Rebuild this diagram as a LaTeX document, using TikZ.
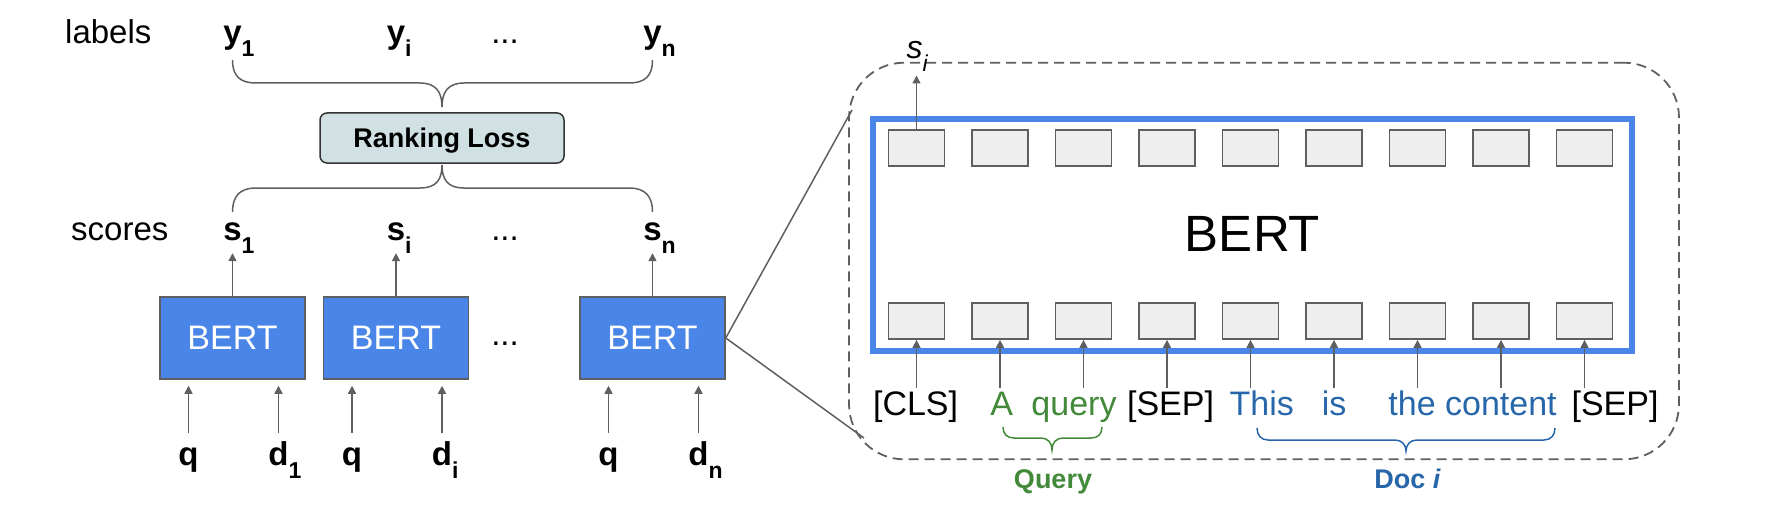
\documentclass[tikz,border=0pt]{standalone}
\usepackage{fontspec}
\setmainfont{Liberation Sans}
\usetikzlibrary{arrows.meta}
\definecolor{linegray}{HTML}{5F5F5F}
\definecolor{bertblue}{HTML}{4A86E8}
\definecolor{lossfill}{HTML}{D0E0E3}
\definecolor{tokfill}{HTML}{EEEEEE}
\definecolor{qgreen}{HTML}{43893A}
\definecolor{dblue}{HTML}{2767A9}
\newcommand\fsz[1]{\fontsize{#1}{#1}\selectfont}
\newcommand\bsb[2]{#1\rlap{\raisebox{-13pt}{\fsz{23}#2}}}
\begin{document}
\begin{tikzpicture}[x=1pt,y=-1pt,
  arr/.style={draw=linegray,line width=1.5pt,-{Triangle[length=8pt,width=8pt]}},
  brace/.style={draw=linegray,line width=1.5pt},
  bertbox/.style={draw=linegray,line width=1.5pt,fill=bertblue,minimum width=145pt,minimum height=82pt,inner sep=0pt,text=white,font=\fsz{34}},
  tokbox/.style={draw=linegray,line width=1.8pt,fill=tokfill,minimum width=56pt,minimum height=36pt,inner sep=0pt},
  lab/.style={inner sep=0pt,anchor=base,font=\fsz{33}\bfseries},
  inp/.style={inner sep=0pt,anchor=base,font=\fsz{33}\bfseries,text height=24pt},
  word/.style={inner sep=0pt,anchor=base,font=\fsz{33}},
  tok/.style={inner sep=0pt,anchor=base,font=\fsz{34},text height=27pt},
  dots/.style={inner sep=0pt,anchor=base,font=\fsz{33}},
  zoomline/.style={draw=linegray,line width=1.5pt}
]
\useasboundingbox (0,0) rectangle (1780,508);

% ---------------- left part ----------------
\node[word,anchor=base west] (labels) at (65,44) {labels};
\node[word,anchor=base west] (scores) at (71,240) {scores};

\node[lab] (y1) at (232.5,44) {\bsb{y}{1}};
\node[lab] (yi) at (396,44) {\bsb{y}{i}};
\node[dots] (ydots) at (505,44) {...};
\node[lab] (yn) at (652.5,44) {\bsb{y}{n}};

\node[draw=black!80,line width=1.5pt,fill=lossfill,rounded corners=7pt,minimum width=244pt,minimum height=50pt,inner sep=0pt,font=\fsz{27}\bfseries,text height=19.3pt,text depth=0pt] (loss) at (442,138) {Ranking Loss};

\draw[brace] (232.5,60) .. controls (232.5,76) and (240,83) .. (256,83) -- (420,83) .. controls (436,83) and (442,92) .. (442,107) .. controls (442,92) and (448,83) .. (464,83) -- (629,83) .. controls (645,83) and (652.5,76) .. (652.5,60);
\draw[brace] (232.5,212) .. controls (232.5,196) and (240,188) .. (256,188) -- (420,188) .. controls (436,188) and (442,180) .. (442,165) .. controls (442,180) and (448,188) .. (464,188) -- (629,188) .. controls (645,188) and (652.5,196) .. (652.5,212);

\node[lab] (s1) at (232.5,240) {\bsb{s}{1}};
\node[lab] (si) at (396,240) {\bsb{s}{i}};
\node[dots] (sdots) at (505,240) {...};
\node[lab] (sn) at (652.5,240) {\bsb{s}{n}};

\node[bertbox] (b1) at (232.5,338) {BERT};
\node[bertbox] (bi) at (396,338) {BERT};
\node[dots] (bdots) at (505,345) {...};
\node[bertbox] (bn) at (652.5,338) {BERT};

\draw[arr] (b1.north) -- (s1.south);
\draw[arr] (bi.north) -- (si.south);
\draw[arr] (bn.north) -- (sn.south);

\node[inp] (q1) at (188.5,465) {q};
\node[inp] (d1) at (278.5,465) {\bsb{d}{1}};
\node[inp] (q2) at (352,465) {q};
\node[inp] (d2) at (442,465) {\bsb{d}{i}};
\node[inp] (q3) at (608.5,465) {q};
\node[inp] (d3) at (698.5,465) {\bsb{d}{n}};
\foreach \i/\b in {q1/b1,d1/b1,q2/bi,d2/bi,q3/bn,d3/bn}{
  \draw[arr,shorten <=8pt,shorten >=6pt] (\i.north) -- (\i.north |- \b.south);
}

% ---------------- right part ----------------
\node[draw=linegray,line width=1.8pt,dash pattern=on 10pt off 6pt,rounded corners=55pt,minimum width=830pt,minimum height=396.6pt,inner sep=0pt] (dbox) at (1264,261) {};
\coordinate (zA) at (852,110);
\coordinate (zB) at (864,438);
\draw[zoomline] (bn.east) -- (zA);
\draw[zoomline] (bn.east) -- (zB);

\node[draw=bertblue,line width=6pt,minimum width=759pt,minimum height=231pt,inner sep=0pt] (bert) at (1252.5,235) {};
\node[inner sep=0pt,font=\fsz{51}] (berttext) at (1252.5,233.5) {BERT};

\foreach \k in {1,...,9}{
  \node[tokbox] (t\k) at ({916.5+83.5*(\k-1)},148) {};
  \node[tokbox] (u\k) at ({916.5+83.5*(\k-1)},321) {};
}

\node[inner sep=0pt,anchor=base,font=\fsz{32}\itshape] (sout) at (914.6,58.3) {\bsb{s}{i}};
\draw[arr,shorten >=4pt] (t1.north) -- (t1.north |- sout.south);

\node[tok] (cls) at (915.6,415) {[CLS]};
\node[tok,text=qgreen] (wa) at (1001.7,415) {A};
\node[tok,text=qgreen] (wq) at (1074,415) {query};
\node[tok] (sep1) at (1170.5,415) {[SEP]};
\node[tok,text=dblue] (wthis) at (1261.7,415) {This};
\node[tok,text=dblue] (wis) at (1334.2,415) {is};
\node[tok,text=dblue] (wcont) at (1472.6,415) {the content};
\node[tok] (sep2) at (1615,415) {[SEP]};

\foreach \k in {1,...,9}{
  \draw[arr] (u\k.south |- cls.north) -- (u\k.south);
}

\draw[brace,draw=qgreen] (1003,427) .. controls (1003,434) and (1007,438) .. (1014,438) -- (1041,438) .. controls (1048,438) and (1052,443) .. (1052,450) .. controls (1052,443) and (1056,438) .. (1063,438) -- (1091,438) .. controls (1098,438) and (1102,434) .. (1102,427);
\draw[brace,draw=dblue] (1257,428) .. controls (1257,435) and (1261,440) .. (1268,440) -- (1395,440) .. controls (1402,440) and (1406,445) .. (1406,451) .. controls (1406,445) and (1410,440) .. (1417,440) -- (1544,440) .. controls (1551,440) and (1555,435) .. (1555,428);

\node[inner sep=0pt,anchor=base,font=\fsz{27}\bfseries,text=qgreen] (qlab) at (1053,488) {Query};
\node[inner sep=0pt,anchor=base,font=\fsz{27}\bfseries,text=dblue] (dlab) at (1407.5,488) {Doc \textit{i}};
\end{tikzpicture}
\end{document}
